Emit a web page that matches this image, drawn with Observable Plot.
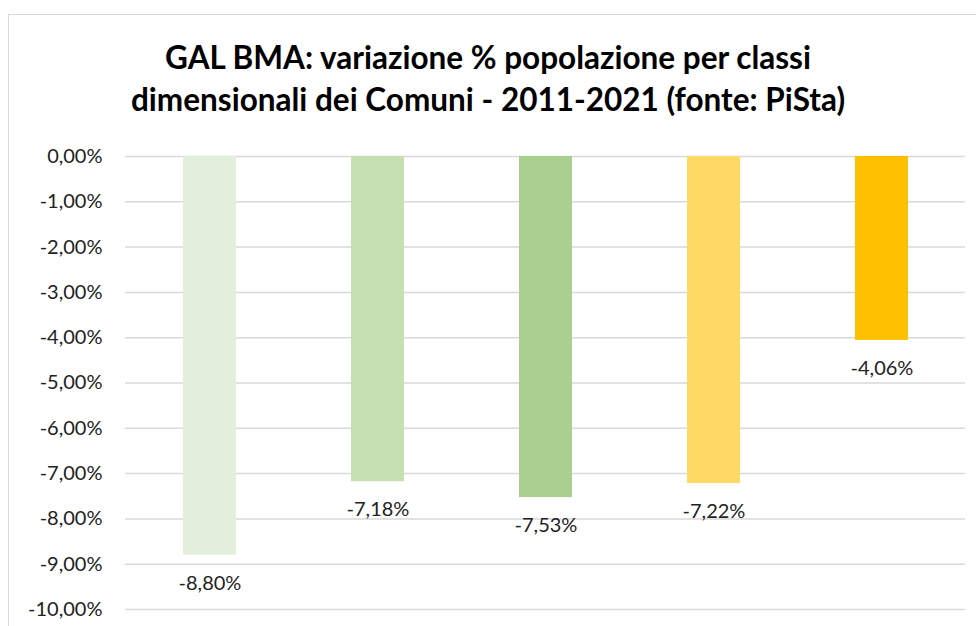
<!DOCTYPE html>
<html>
<head>
<meta charset="utf-8">
<script src="https://cdn.jsdelivr.net/npm/d3@7"></script>
<script src="https://cdn.jsdelivr.net/npm/@observablehq/plot@0.6"></script>
<style>
  html, body { margin: 0; padding: 0; background: #fff; }
  #wrap { position: relative; width: 976px; height: 626px; overflow: hidden; }
  #frame { position: absolute; left: 8px; top: 14px; width: 1000px; height: 700px; border: 1.5px solid #D9D9D9; box-sizing: border-box; }
  #title { position: absolute; left: 0; width: 976px; top: 36px; text-align: center; font-family: Lato, sans-serif; font-weight: bold; font-size: 31.5px; line-height: 42px; color: #000; }
  #chart { position: absolute; left: 0; top: 0; }
</style>
</head>
<body>
<div id="wrap">
  <div id="frame"></div>
  <div id="title">GAL BMA: variazione % popolazione per classi<br>dimensionali dei Comuni - 2011-2021 (fonte: PiSta)</div>
  <div id="chart"></div>
</div>
<script>
const categories = ["Classe 1", "Classe 2", "Classe 3", "Classe 4", "Classe 5"];
const values = [-8.80, -7.18, -7.53, -7.22, -4.06];
const colors = ["#E2EFDA", "#C6E0B4", "#A9D08E", "#FFD966", "#FFC000"];
const yTicks = [0, -1, -2, -3, -4, -5, -6, -7, -8, -9, -10];

const data = categories.map((c, i) => ({cat: c, value: values[i]}));
const fmt = v => v.toFixed(2).replace(".", ",") + "%";

const chart = Plot.plot({
  width: 976,
  height: 626,
  marginTop: 156,
  marginBottom: 17,
  marginLeft: 125,
  marginRight: 11,
  style: {fontFamily: "Lato, sans-serif", fontSize: "20px", color: "#222", background: "transparent"},
  x: {domain: categories, paddingInner: 0.685, paddingOuter: 0.3425, axis: null},
  y: {domain: [-10, 0], label: null},
  color: {domain: categories, range: colors},
  marks: [
    Plot.ruleY(yTicks, {stroke: "#D9D9D9", strokeWidth: 1.5}),
    Plot.barY(data, {x: "cat", y: "value", fill: "cat"}),
    Plot.axisY({ticks: yTicks, tickSize: 0, tickPadding: 23, tickFormat: fmt, label: null, fontSize: 20, fill: "#222"}),
    Plot.text(data, {x: "cat", y: "value", text: d => fmt(d.value), dy: 28, fontSize: 20, fill: "#222"})
  ]
});
document.getElementById("chart").appendChild(chart);
</script>
</body>
</html>
